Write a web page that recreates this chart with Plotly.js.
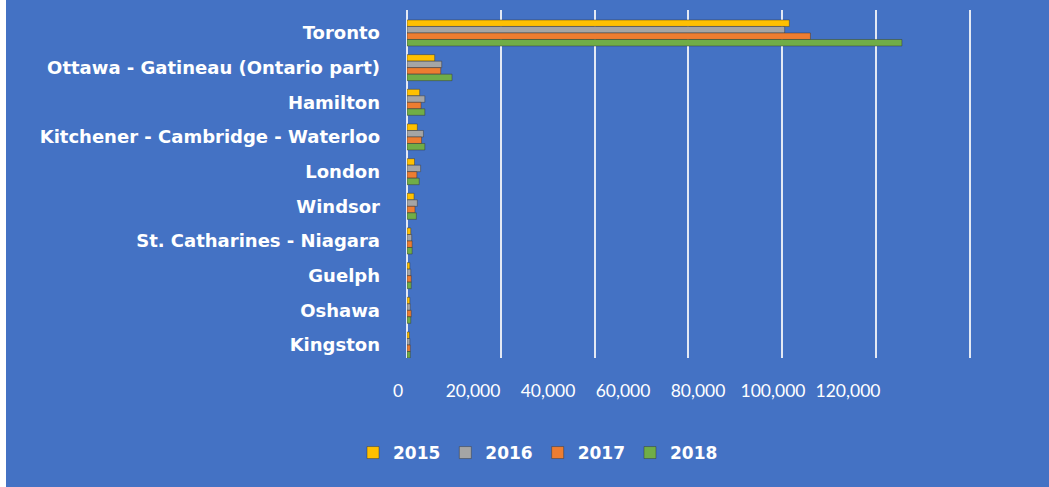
<!DOCTYPE html>
<html>
<head>
<meta charset="utf-8">
<script src="https://cdn.plot.ly/plotly-3.0.1.min.js"></script>
<style>html,body{margin:0;padding:0;background:#4472C4;}#chart{width:1049px;height:487px;}</style>
</head>
<body>
<div id="chart"></div>
<script>
const cities = ["Toronto","Ottawa - Gatineau (Ontario part)","Hamilton","Kitchener - Cambridge - Waterloo","London","Windsor","St. Catharines - Niagara","Guelph","Oshawa","Kingston"];
const years = ["2015","2016","2017","2018"];
const v2015 = [81500, 5900, 2700, 2200, 1600, 1500, 800, 600, 600, 500];
const v2016 = [80500, 7400, 3800, 3500, 2900, 2200, 1000, 800, 700, 600];
const v2017 = [86000, 7200, 3000, 3100, 2100, 1700, 1100, 900, 900, 700];
const v2018 = [105500, 9600, 3800, 3800, 2600, 2000, 1100, 900, 800, 700];
const tickVals = [0, 20000, 40000, 60000, 80000, 100000, 120000];
const tickText = ["0","20,000","40,000","60,000","80,000","100,000","120,000"];

const colors = ["#FFC000","#A5A5A5","#ED7D31","#70AD47"];
const series = [v2015, v2016, v2017, v2018];
const W = 1049, H = 487;
const px = v => v / W, py = v => 1 - v / H;

const traces = series.map((vals, i) => ({
  type: 'bar', orientation: 'h', name: years[i],
  x: vals, y: cities,
  marker: {color: colors[i], line: {color: 'rgba(50,50,50,0.45)', width: 1}},
  hoverinfo: 'x+name'
}));
traces.push({
  type: 'scatter', mode: 'markers', x: [0, 120000], y: [cities[0], cities[0]],
  xaxis: 'x2', yaxis: 'y', marker: {opacity: 0}, showlegend: false, hoverinfo: 'skip'
});

const layout = {
  width: W, height: H,
  paper_bgcolor: '#4472C4', plot_bgcolor: 'rgba(0,0,0,0)',
  margin: {l: 0, r: 0, t: 0, b: 0},
  barmode: 'group', bargap: 0.25, bargroupgap: 0,
  font: {family: 'Lato, sans-serif', color: '#FFFFFF'},
  xaxis: {
    domain: [px(407), px(972.3)], range: [0, 120500], autorange: false,
    tickvals: tickVals, showticklabels: false,
    showgrid: true, gridcolor: '#E4E9F4', gridwidth: 2,
    zeroline: true, zerolinecolor: '#E4E9F4', zerolinewidth: 2,
    showline: false, automargin: false, fixedrange: true
  },
  xaxis2: {
    domain: [px(398), px(848)], range: [0, 120000], autorange: false,
    anchor: 'free', position: py(378), side: 'bottom',
    tickvals: tickVals, ticktext: tickText, ticks: '',
    showgrid: false, zeroline: false, showline: false,
    tickfont: {family: 'Lato, sans-serif', size: 17.5, color: '#FFFFFF'},
    automargin: false, fixedrange: true
  },
  yaxis: {
    domain: [py(358), py(10)],
    type: 'category', categoryorder: 'array', categoryarray: cities,
    range: [9.375, -0.663], autorange: false,
    showgrid: false, zeroline: false, showline: false, ticks: '',
    ticklabelstandoff: 26,
    tickfont: {family: '"DejaVu Sans", sans-serif', size: 18, color: '#FFFFFF', weight: 'bold'},
    automargin: false, fixedrange: true
  },
  legend: {
    orientation: 'h', x: px(538), xanchor: 'center', y: py(453), yanchor: 'middle',
    font: {family: '"DejaVu Sans", sans-serif', size: 17, color: '#FFFFFF', weight: 'bold'},
    bgcolor: 'rgba(0,0,0,0)', traceorder: 'normal'
  },
  shapes: [
    {type: 'rect', xref: 'paper', yref: 'paper', x0: 0, x1: px(6), y0: 0, y1: 1,
     fillcolor: '#FFFFFF', line: {width: 0}, layer: 'above'}
  ],
  showlegend: true
};

Plotly.newPlot('chart', traces, layout, {displayModeBar: false, staticPlot: true});
</script>
</body>
</html>
